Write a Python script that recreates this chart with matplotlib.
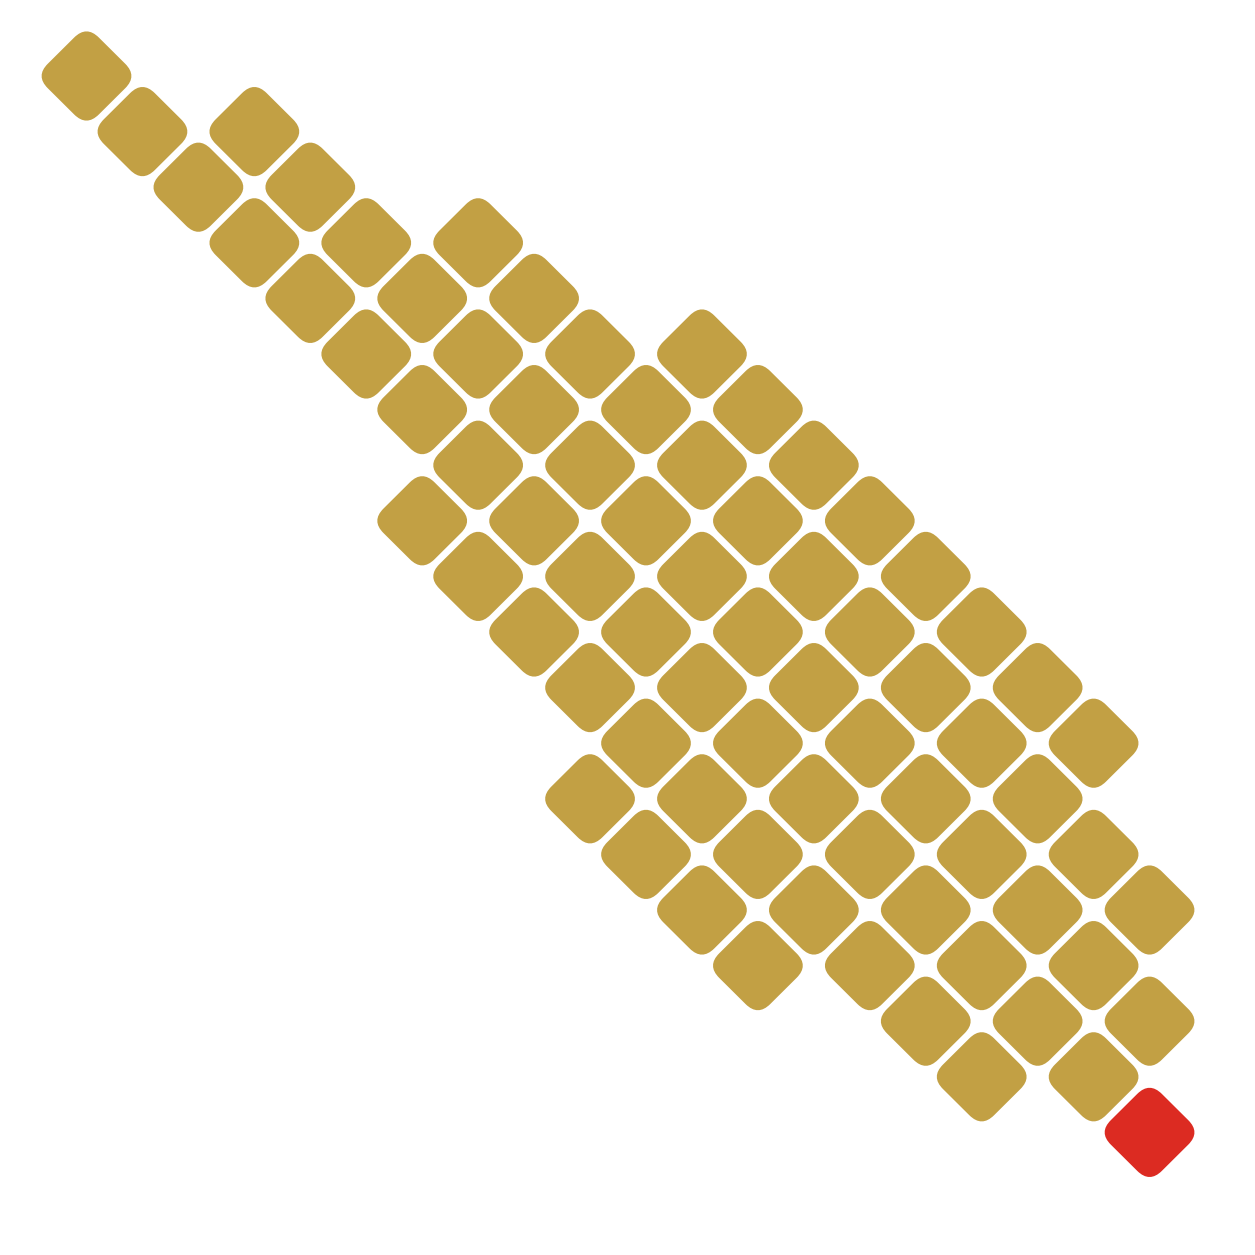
import matplotlib
matplotlib.use("Agg")
import matplotlib.pyplot as plt
from matplotlib.patches import FancyBboxPatch
from matplotlib.transforms import Affine2D

# each diagonal strip of tiles (running top-left -> bottom-right)
diag_offset = [-4, -2, 0, 2, 4, 6]      # column minus row
diag_start_row = [13, 8, 0, 1, 3, 5]    # row of first tile
diag_count = [4, 11, 20, 17, 13, 8]     # tiles in the strip
highlight = (0, 19)                      # (offset, row) of the red tile

gold = "#C2A044"
red = "#DC2B22"

fig = plt.figure(figsize=(12.55, 12.55), dpi=100)
ax = fig.add_axes([0, 0, 1, 1])

# grid spacing in pixels, used to set limits so one unit = one grid step
dx, dy = 55.95, 55.6
x0, y0 = 86.5, 76.0
ax.set_xlim(-x0 / dx, (1255 - x0) / dx)
ax.set_ylim((1255 - y0) / dy, -y0 / dy)
ax.axis("off")

side = 1.29
rnd = 0.31

for off, start, n in zip(diag_offset, diag_start_row, diag_count):
    for row in range(start, start + n):
        col = row + off
        color = red if (off, row) == highlight else gold
        tile = FancyBboxPatch((col - side / 2, row - side / 2), side, side,
                              boxstyle=f"round,pad=0,rounding_size={rnd}",
                              facecolor=color, edgecolor="none")
        tile.set_transform(Affine2D().rotate_deg_around(col, row, 45) + ax.transData)
        ax.add_patch(tile)

fig.savefig("out.png", dpi=100, facecolor="white")
